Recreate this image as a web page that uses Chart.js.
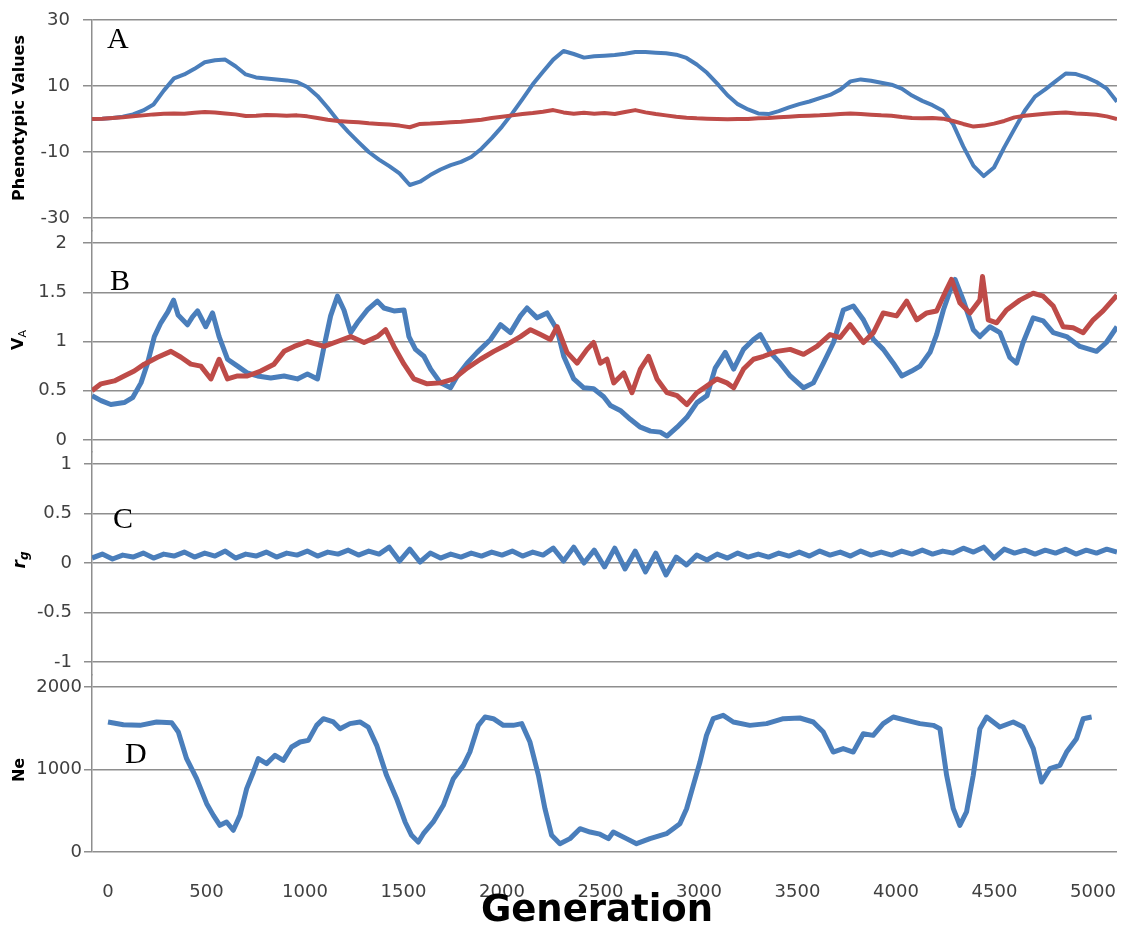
<!DOCTYPE html>
<html>
<head>
<meta charset="utf-8">
<script src="https://cdn.jsdelivr.net/npm/chart.js@4.4.1/dist/chart.umd.min.js"></script>
<style>
  body { margin: 0; background: #fff; }
  #chart { display: block; }
</style>
</head>
<body>
<canvas id="chart" width="1123" height="932"></canvas>

<script>
// generations sampled every 50 (panels A and C)
const gen50 = [
  0, 50, 100, 150, 200, 250, 300, 350, 400, 450, 500, 550, 600, 650, 700, 750, 800, 850, 900, 950,
  1000, 1050, 1100, 1150, 1200, 1250, 1300, 1350, 1400, 1450, 1500, 1550, 1600, 1650, 1700, 1750, 1800, 1850, 1900, 1950,
  2000, 2050, 2100, 2150, 2200, 2250, 2300, 2350, 2400, 2450, 2500, 2550, 2600, 2650, 2700, 2750, 2800, 2850, 2900, 2950,
  3000, 3050, 3100, 3150, 3200, 3250, 3300, 3350, 3400, 3450, 3500, 3550, 3600, 3650, 3700, 3750, 3800, 3850, 3900, 3950,
  4000, 4050, 4100, 4150, 4200, 4250, 4300, 4350, 4400, 4450, 4500, 4550, 4600, 4650, 4700, 4750, 4800, 4850, 4900, 4950,
  5000
];

// A: mean phenotypic values of the two traits
const phenoBlue = [
  0.0, 0.1, 0.3, 0.7, 1.4, 2.6, 4.4, 8.6, 12.3, 13.5, 15.2, 17.2, 17.8, 18.0, 16.0, 13.5, 12.6, 12.3, 12.0, 11.7,
  11.2, 9.7, 7.0, 3.4, -0.5, -3.9, -7.0, -10.0, -12.3, -14.3, -16.5, -20.0, -19.0, -17.0, -15.3, -14.0, -13.0, -11.5, -9.0, -5.8,
  -2.3, 1.7, 6.0, 10.5, 14.3, 18.0, 20.6, 19.7, 18.6, 19.0, 19.2, 19.4, 19.8, 20.3, 20.3, 20.1, 19.9, 19.5, 18.5, 16.5,
  14.0, 10.7, 7.2, 4.5, 2.9, 1.7, 1.5, 2.4, 3.5, 4.5, 5.3, 6.3, 7.3, 8.9, 11.4, 12.0, 11.6, 11.0, 10.4, 9.2,
  7.1, 5.5, 4.2, 2.5, -1.5, -8.3, -14.2, -17.3, -14.7, -8.6, -3.0, 2.5, 6.8, 9.0, 11.4, 13.8, 13.6, 12.6, 11.2, 9.2,
  5.2
];
const phenoRed = [
  0.0, 0.1, 0.3, 0.5, 0.8, 1.1, 1.4, 1.6, 1.7, 1.6, 1.9, 2.1, 2.0, 1.7, 1.4, 0.9, 1.0, 1.2, 1.1, 1.0,
  1.1, 0.8, 0.3, -0.2, -0.6, -0.8, -1.0, -1.3, -1.5, -1.7, -2.0, -2.5, -1.5, -1.4, -1.2, -1.0, -0.8, -0.5, -0.2, 0.3,
  0.7, 1.1, 1.5, 1.8, 2.2, 2.7, 2.0, 1.6, 1.9, 1.6, 1.8, 1.5, 2.1, 2.7, 2.0, 1.5, 1.1, 0.7, 0.4, 0.2,
  0.1, 0.0, -0.1, 0.0, 0.0, 0.2, 0.3, 0.5, 0.7, 0.9, 1.0, 1.1, 1.3, 1.5, 1.7, 1.5, 1.3, 1.1, 1.0, 0.6,
  0.3, 0.2, 0.3, 0.1, -0.6, -1.5, -2.3, -2.0, -1.4, -0.6, 0.5, 1.0, 1.3, 1.6, 1.8, 2.0, 1.7, 1.5, 1.3, 0.8,
  0.0
];

// B: additive genetic variance
const vaBlueGen = [
  0, 44, 92, 157, 198, 239, 271, 304, 336, 370, 398, 420, 466, 490, 515, 555, 588, 620, 661, 710,
  758, 807, 872, 937, 1002, 1051, 1100, 1132, 1164, 1197, 1229, 1262, 1294, 1343, 1392, 1424, 1473, 1522, 1546, 1578,
  1619, 1652, 1700, 1749, 1782, 1830, 1879, 1944, 1993, 2041, 2090, 2122, 2171, 2220, 2269, 2301, 2350, 2399, 2447, 2496,
  2529, 2577, 2626, 2675, 2724, 2772, 2805, 2854, 2902, 2951, 3000, 3040, 3089, 3130, 3178, 3227, 3260, 3308, 3357, 3406,
  3471, 3519, 3568, 3617, 3665, 3714, 3763, 3812, 3860, 3909, 3950, 3998, 4039, 4088, 4120, 4153, 4185, 4210, 4250, 4299,
  4331, 4380, 4429, 4477, 4510, 4542, 4591, 4640, 4689, 4754, 4819, 4900, 4948, 5000
];
const vaBlue = [
  0.45, 0.40, 0.36, 0.38, 0.43, 0.58, 0.78, 1.05, 1.19, 1.30, 1.42, 1.27, 1.17, 1.25, 1.31, 1.15, 1.29, 1.05, 0.82, 0.75,
  0.68, 0.65, 0.63, 0.65, 0.62, 0.67, 0.62, 0.95, 1.26, 1.46, 1.32, 1.09, 1.19, 1.32, 1.41, 1.34, 1.31, 1.32, 1.05, 0.92,
  0.85, 0.72, 0.58, 0.53, 0.65, 0.78, 0.89, 1.02, 1.17, 1.09, 1.26, 1.34, 1.24, 1.29, 1.12, 0.85, 0.62, 0.53, 0.52, 0.44,
  0.35, 0.30, 0.21, 0.13, 0.09, 0.08, 0.04, 0.13, 0.23, 0.38, 0.45, 0.73, 0.89, 0.72, 0.92, 1.02, 1.07, 0.89, 0.78, 0.65,
  0.53, 0.58, 0.78, 0.99, 1.32, 1.36, 1.22, 1.02, 0.92, 0.78, 0.65, 0.70, 0.75, 0.89, 1.07, 1.32, 1.51, 1.63, 1.42, 1.12,
  1.05, 1.15, 1.09, 0.84, 0.78, 0.99, 1.24, 1.21, 1.09, 1.05, 0.95, 0.90, 0.99, 1.15
];
const vaRedGen = [
  0, 44, 109, 157, 206, 255, 320, 385, 434, 482, 531, 580, 620, 661, 710, 758, 823, 888, 937, 986,
  1051, 1132, 1197, 1262, 1327, 1392, 1432, 1473, 1522, 1570, 1635, 1700, 1765, 1830, 1895, 1960, 2025, 2090, 2139, 2188,
  2236, 2269, 2317, 2366, 2415, 2447, 2480, 2512, 2545, 2594, 2634, 2675, 2715, 2756, 2805, 2854, 2902, 2951, 3000, 3048,
  3097, 3130, 3178, 3227, 3276, 3341, 3406, 3471, 3536, 3600, 3649, 3698, 3763, 3812, 3860, 3925, 3974, 4023, 4072, 4120,
  4169, 4193, 4234, 4283, 4331, 4344, 4372, 4413, 4461, 4526, 4591, 4640, 4689, 4737, 4786, 4835, 4884, 4932, 5000
];
const vaRed = [
  0.50, 0.57, 0.60, 0.65, 0.70, 0.77, 0.84, 0.90, 0.84, 0.77, 0.75, 0.62, 0.82, 0.62, 0.65, 0.65, 0.70, 0.77, 0.90, 0.95,
  1.00, 0.95, 1.00, 1.05, 0.99, 1.05, 1.12, 0.95, 0.77, 0.62, 0.57, 0.58, 0.62, 0.73, 0.82, 0.90, 0.97, 1.05, 1.12, 1.07,
  1.02, 1.15, 0.89, 0.78, 0.92, 0.99, 0.78, 0.82, 0.58, 0.68, 0.48, 0.72, 0.85, 0.62, 0.48, 0.45, 0.36, 0.48, 0.55, 0.62,
  0.58, 0.53, 0.72, 0.82, 0.85, 0.90, 0.92, 0.87, 0.95, 1.07, 1.04, 1.17, 0.99, 1.09, 1.29, 1.26, 1.41, 1.22, 1.29, 1.31,
  1.53, 1.63, 1.39, 1.29, 1.42, 1.66, 1.22, 1.19, 1.32, 1.42, 1.49, 1.46, 1.36, 1.15, 1.14, 1.09, 1.22, 1.31, 1.47
];

// C: genetic correlation between the traits
const rgValues = [
  0.05, 0.09, 0.04, 0.08, 0.06, 0.10, 0.05, 0.09, 0.07, 0.11, 0.06, 0.10, 0.07, 0.12, 0.05, 0.09, 0.07, 0.11, 0.06, 0.10,
  0.08, 0.12, 0.07, 0.11, 0.09, 0.13, 0.08, 0.12, 0.09, 0.16, 0.02, 0.14, 0.01, 0.10, 0.05, 0.09, 0.06, 0.10, 0.07, 0.11,
  0.08, 0.12, 0.07, 0.11, 0.08, 0.15, 0.02, 0.16, 0.00, 0.13, -0.04, 0.15, -0.06, 0.12, -0.09, 0.10, -0.12, 0.06, -0.02, 0.08,
  0.03, 0.09, 0.05, 0.10, 0.06, 0.09, 0.06, 0.10, 0.07, 0.11, 0.07, 0.12, 0.08, 0.11, 0.07, 0.12, 0.08, 0.11, 0.08, 0.12,
  0.09, 0.13, 0.09, 0.12, 0.10, 0.15, 0.11, 0.16, 0.05, 0.14, 0.10, 0.13, 0.09, 0.13, 0.10, 0.14, 0.09, 0.13, 0.10, 0.14,
  0.11
];

// D: effective population size
const neGen = [
  0, 78, 162, 247, 323, 357, 399, 450, 501, 535, 568, 602, 636, 670, 704, 738, 763, 805, 848, 890,
  932, 975, 1017, 1059, 1093, 1144, 1178, 1228, 1279, 1321, 1364, 1414, 1465, 1508, 1541, 1575, 1601, 1651, 1702, 1753,
  1804, 1837, 1880, 1914, 1956, 2007, 2057, 2100, 2142, 2185, 2218, 2252, 2294, 2345, 2396, 2447, 2497, 2540, 2565, 2632,
  2683, 2751, 2835, 2903, 2937, 2971, 3005, 3038, 3072, 3123, 3174, 3258, 3343, 3428, 3512, 3580, 3631, 3681, 3732, 3783,
  3834, 3884, 3935, 3986, 4054, 4121, 4189, 4223, 4257, 4291, 4324, 4358, 4392, 4426, 4460, 4527, 4595, 4646, 4697, 4739,
  4781, 4832, 4866, 4916, 4950, 4993
];
const neValues = [
  1576, 1543, 1535, 1576, 1568, 1454, 1131, 889, 586, 444, 323, 364, 263, 444, 768, 970, 1131, 1071, 1172, 1111,
  1273, 1333, 1353, 1535, 1616, 1576, 1495, 1556, 1576, 1515, 1293, 929, 646, 364, 202, 121, 222, 364, 566, 889,
  1050, 1212, 1535, 1636, 1616, 1535, 1535, 1556, 1333, 929, 525, 202, 101, 162, 283, 242, 216, 162, 242, 162,
  101, 162, 222, 343, 525, 808, 1091, 1414, 1616, 1656, 1576, 1535, 1556, 1616, 1624, 1576, 1454, 1212, 1253, 1212,
  1434, 1414, 1556, 1636, 1596, 1556, 1535, 1495, 929, 525, 323, 485, 929, 1495, 1636, 1515, 1576, 1515, 1253, 848,
  1010, 1050, 1212, 1374, 1616, 1636
];

// tick labels
const ticksA = [-30, -20, -10, 0, 10, 20, 30];
const ticksB = [0, 0.5, 1, 1.5, 2];
const ticksC = [-1, -0.5, 0, 0.5, 1];
const ticksD = [0, 500, 1000, 1500, 2000];
const genTicks = [0, 500, 1000, 1500, 2000, 2500, 3000, 3500, 4000, 4500, 5000];

const BLUE = "#4a7ebb";
const RED = "#be4b48";
const GRID = "#8e8e8e";
const LABEL = "#404040";
const TICK_FONT = { family: "DejaVu Sans", size: 18 };

// panel letters, rotated y titles and the x title
const panelText = {
  id: "panelText",
  afterDraw(chart, args, opts) {
    const ctx = chart.ctx;
    ctx.save();
    ctx.fillStyle = "#000";
    ctx.textAlign = "left";
    ctx.textBaseline = "alphabetic";
    ctx.font = "30px 'Liberation Serif'";
    opts.letters.forEach((l) => ctx.fillText(l.text, l.x, l.y));

    ctx.font = "bold 37px 'DejaVu Sans'";
    ctx.textAlign = "center";
    ctx.textBaseline = "middle";
    ctx.fillText(opts.xTitle.text, opts.xTitle.x, opts.xTitle.y);

    opts.yTitles.forEach((t) => {
      ctx.save();
      ctx.translate(t.x, t.y);
      ctx.rotate(-Math.PI / 2);
      ctx.textAlign = "left";
      let total = 0;
      t.parts.forEach((p) => {
        ctx.font = p.font;
        total += ctx.measureText(p.text).width;
      });
      let x = -total / 2;
      t.parts.forEach((p) => {
        ctx.font = p.font;
        ctx.fillText(p.text, x, p.dy || 0);
        x += ctx.measureText(p.text).width;
      });
      ctx.restore();
    });
    ctx.restore();
  },
};

function series(gens, vals, color, width, order, xId, yId) {
  return {
    data: gens.map((g, i) => ({ x: g, y: vals[i] })),
    borderColor: color,
    borderWidth: width,
    pointRadius: 0,
    tension: 0,
    borderJoinStyle: "round",
    order: order,
    xAxisID: xId,
    yAxisID: yId,
  };
}

// one left axis per panel, stacked in a single column; each axis owns a band
// of the plot height and its range is stretched so the ticks land inside the
// panel box (top..bottom) while the band edges leave the gaps between panels
function panelAxis(p) {
  const ppu = (p.bottom - p.top) / (p.vTop - p.vBottom);
  return {
    type: "linear",
    position: "left",
    stack: "panels",
    stackWeight: p.bandBottom - p.bandTop,
    weight: p.weight,
    min: p.vBottom - (p.bandBottom - p.bottom) / ppu,
    max: p.vTop + (p.top - p.bandTop) / ppu,
    afterBuildTicks: (scale) => {
      scale.ticks = p.ticks.map((v) => ({ value: v }));
    },
    ticks: {
      padding: p.pad,
      color: LABEL,
      font: TICK_FONT,
      callback: (v) => String(v),
    },
    grid: { color: GRID, lineWidth: 1.5, tickLength: p.tick },
    border: { color: GRID, width: 1.5 },
    afterFit: (scale) => {
      scale.width = 92;
      scale.paddingTop = 0;
      scale.paddingBottom = 0;
    },
  };
}

new Chart(document.getElementById("chart"), {
  type: "line",
  data: {
    datasets: [
      series(gen50, phenoBlue, BLUE, 4, 2, "x", "yA"),
      series(gen50, phenoRed, RED, 4, 1, "x", "yA"),
      series(vaBlueGen, vaBlue, BLUE, 5, 2, "x", "yB"),
      series(vaRedGen, vaRed, RED, 5, 1, "x", "yB"),
      series(gen50, rgValues, BLUE, 5, 1, "x", "yC"),
      series(neGen, neValues, BLUE, 5, 1, "xd", "yD"),
    ],
  },
  options: {
    responsive: false,
    animation: false,
    events: [],
    layout: { padding: { top: 20, right: 6, bottom: 0, left: 0 } },
    plugins: {
      legend: { display: false },
      tooltip: { enabled: false },
      panelText: {
        letters: [
          { text: "A", x: 107, y: 48 },
          { text: "B", x: 110, y: 290 },
          { text: "C", x: 113, y: 528 },
          { text: "D", x: 125, y: 763 },
        ],
        xTitle: { text: "Generation", x: 597, y: 911 },
        yTitles: [
          { x: 20, y: 118, parts: [{ text: "Phenotypic Values", font: "bold 16px 'DejaVu Sans'" }] },
          { x: 19, y: 340, parts: [{ text: "V", font: "bold 16px 'DejaVu Sans'" }, { text: "A", font: "11px 'DejaVu Sans'", dy: 4 }] },
          { x: 21, y: 560, parts: [{ text: "r", font: "italic bold 17px 'DejaVu Sans'" }, { text: "g", font: "italic bold 12px 'DejaVu Sans'", dy: 4 }] },
          { x: 20, y: 770, parts: [{ text: "Ne", font: "bold 16px 'DejaVu Sans'" }] },
        ],
      },
    },
    scales: {
      // panels A-C span the full plot width
      x: { type: "linear", position: "bottom", min: 0, max: 5000, display: false },
      // panel D is a little narrower: 0..5000 sits between x=108 and x=1093
      xd: {
        type: "linear",
        position: "bottom",
        min: -81.2,
        max: 5121.8,
        afterBuildTicks: (scale) => {
          scale.ticks = genTicks.map((v) => ({ value: v }));
        },
        ticks: {
          padding: 30,
          color: LABEL,
          font: TICK_FONT,
          maxRotation: 0,
          autoSkip: false,
          callback: (v) => String(v),
        },
        grid: { display: false, drawTicks: false },
        border: { display: false },
        afterFit: (scale) => {
          scale.height = 80;
          scale.paddingLeft = 0;
          scale.paddingRight = 0;
        },
      },
      yD: panelAxis({ ticks: ticksD, vTop: 2000, vBottom: 0, top: 687, bottom: 852, bandTop: 674.5, bandBottom: 852, pad: 2, tick: 8, weight: 1 }),
      yC: panelAxis({ ticks: ticksC, vTop: 1, vBottom: -1, top: 464, bottom: 662, bandTop: 452, bandBottom: 674.5, pad: 12, tick: 8, weight: 2 }),
      yB: panelAxis({ ticks: ticksB, vTop: 2, vBottom: 0, top: 243, bottom: 440, bandTop: 230.5, bandBottom: 452, pad: 16, tick: 9, weight: 3 }),
      yA: panelAxis({ ticks: ticksA, vTop: 30, vBottom: -30, top: 20, bottom: 218, bandTop: 20, bandBottom: 230.5, pad: 13, tick: 9, weight: 4 }),
    },
  },
  plugins: [panelText],
});
</script>
</body>
</html>
